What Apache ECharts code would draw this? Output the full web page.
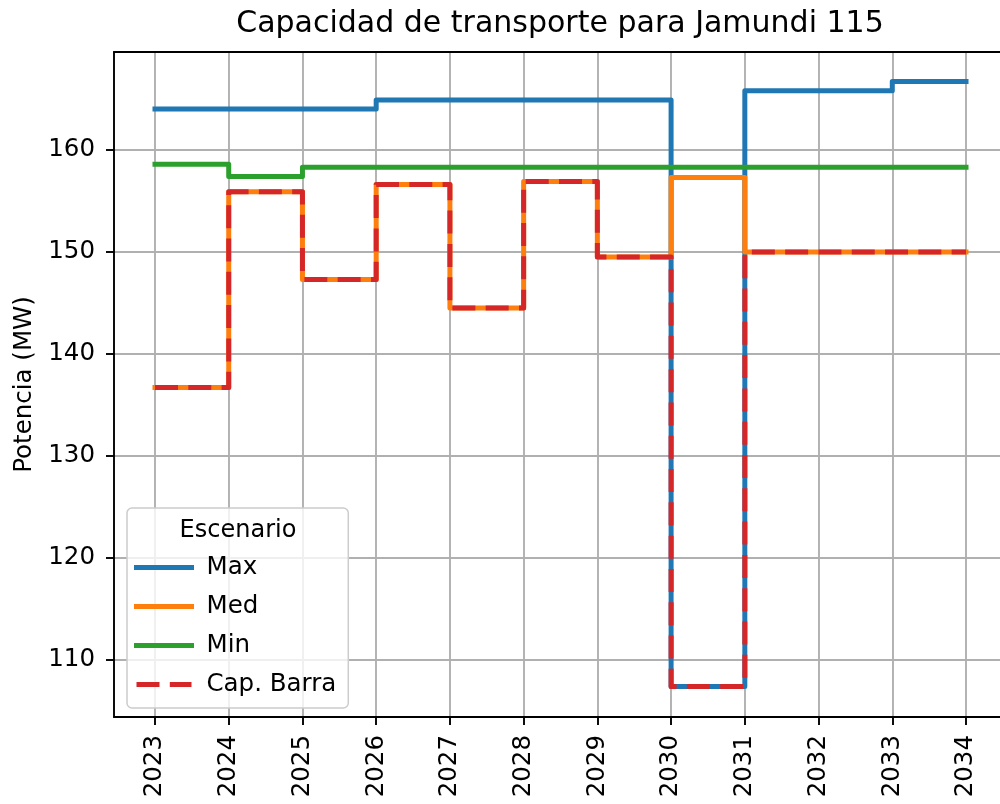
<!DOCTYPE html>
<html>
<head>
<meta charset="utf-8">
<script src="https://cdn.jsdelivr.net/npm/echarts@6/dist/echarts.min.js"></script>
<style>
html,body{margin:0;padding:0;background:#fff;}
#chart{width:1000px;height:804px;}
</style>
</head>
<body>
<div id="chart"></div>
<script>
const years = [2023, 2024, 2025, 2026, 2027, 2028, 2029, 2030, 2031, 2032, 2033, 2034];
const maxVals = [164.0, 164.0, 164.0, 164.9, 164.9, 164.9, 164.9, 107.4, 165.8, 165.8, 166.7, 166.7];
const medVals = [136.7, 155.9, 147.3, 156.6, 144.5, 156.9, 149.5, 157.3, 150.0, 150.0, 150.0, 150.0];
const minVals = [158.6, 157.4, 158.3, 158.3, 158.3, 158.3, 158.3, 158.3, 158.3, 158.3, 158.3, 158.3];
const capVals = [136.7, 155.9, 147.3, 156.6, 144.5, 156.9, 149.5, 107.4, 150.0, 150.0, 150.0, 150.0];
const yTicks = [110, 120, 130, 140, 150, 160];
const seriesNames = ['Max', 'Med', 'Min', 'Cap. Barra'];
const titleText = 'Capacidad de transporte para Jamundi 115';
const yName = 'Potencia (MW)';
const legendTitle = 'Escenario';

const FONT = 'DejaVu Sans';
const pairs = vals => years.map((y, i) => [y, vals[i]]);

const chart = echarts.init(document.getElementById('chart'), null, {renderer: 'canvas'});

function lineSeries(name, vals, color, dashed) {
  return {
    name: name,
    type: 'line',
    step: 'end',
    symbol: 'none',
    showSymbol: false,
    data: pairs(vals),
    lineStyle: {
      color: color,
      width: 5,
      type: dashed ? [23, 10.3] : 'solid',
      cap: dashed ? 'butt' : 'square',
      join: 'round'
    },
    itemStyle: {color: color},
    emphasis: {disabled: true}
  };
}

const XMIN = 2022.444, XMAX = 2034.461;

const option = {
  animation: false,
  backgroundColor: '#fff',
  textStyle: {fontFamily: FONT},
  grid: {
    left: 114, right: 0, top: 52, bottom: 87,
    show: false
  },
  graphic: [
    {type: 'text', x: 560, y: 24, z: 100,
     style: {text: titleText, fontSize: 30, fontFamily: FONT, fill: '#000', align: 'center', verticalAlign: 'middle'}},
    {type: 'text', x: 238, y: 531, z: 100,
     style: {text: legendTitle, fontSize: 24, fontFamily: FONT, fill: '#000', align: 'center', verticalAlign: 'middle'}}
  ],
  legend: {
    orient: 'vertical',
    left: 127, top: 508,
    padding: [47, 12, 11, 7],
    itemWidth: 55, itemHeight: 14, itemGap: 14,
    backgroundColor: 'rgba(255,255,255,0.8)',
    borderColor: '#cccccc', borderWidth: 1.5, borderRadius: 5,
    textStyle: {fontSize: 24.5, color: '#000', fontFamily: FONT, lineHeight: 24, padding: [0, 0, 0, 10]},
    lineStyle: {width: 5},
    itemStyle: {opacity: 0, borderWidth: 0},
    data: seriesNames,
    selectedMode: false
  },
  xAxis: [{
    type: 'value',
    min: XMIN, max: XMAX,
    axisLine: {show: true, onZero: false, lineStyle: {color: '#000', width: 1.9}},
    axisTick: {show: true, length: 8, lineStyle: {color: '#000', width: 1.9}, customValues: years},
    axisLabel: {customValues: years, rotate: 90, margin: 18, fontSize: 24.5, color: '#000', fontFamily: FONT,
                formatter: v => String(v)},
    splitLine: {show: true, lineStyle: {color: '#b0b0b0', width: 1.9}}
  }, {
    type: 'value', position: 'top',
    min: XMIN, max: XMAX,
    axisLine: {show: true, onZero: false, lineStyle: {color: '#000', width: 1.9}},
    axisTick: {show: false}, axisLabel: {show: false}, splitLine: {show: false}
  }],
  yAxis: {
    type: 'value',
    min: 104.4, max: 169.6,
    name: yName, nameLocation: 'middle', nameGap: 76,
    nameTextStyle: {fontSize: 24.5, color: '#000', fontFamily: FONT},
    axisLine: {show: true, onZero: false, lineStyle: {color: '#000', width: 1.9}},
    axisTick: {show: true, length: 8, lineStyle: {color: '#000', width: 1.9}, customValues: yTicks},
    axisLabel: {customValues: yTicks, margin: 19, fontSize: 24.5, color: '#000', fontFamily: FONT},
    splitLine: {show: true, lineStyle: {color: '#b0b0b0', width: 1.9}}
  },
  series: [
    lineSeries(seriesNames[0], maxVals, '#1f77b4', false),
    lineSeries(seriesNames[1], medVals, '#ff7f0e', false),
    lineSeries(seriesNames[2], minVals, '#2ca02c', false),
    lineSeries(seriesNames[3], capVals, '#d62728', true)
  ]
};
chart.setOption(option);
</script>
</body>
</html>
